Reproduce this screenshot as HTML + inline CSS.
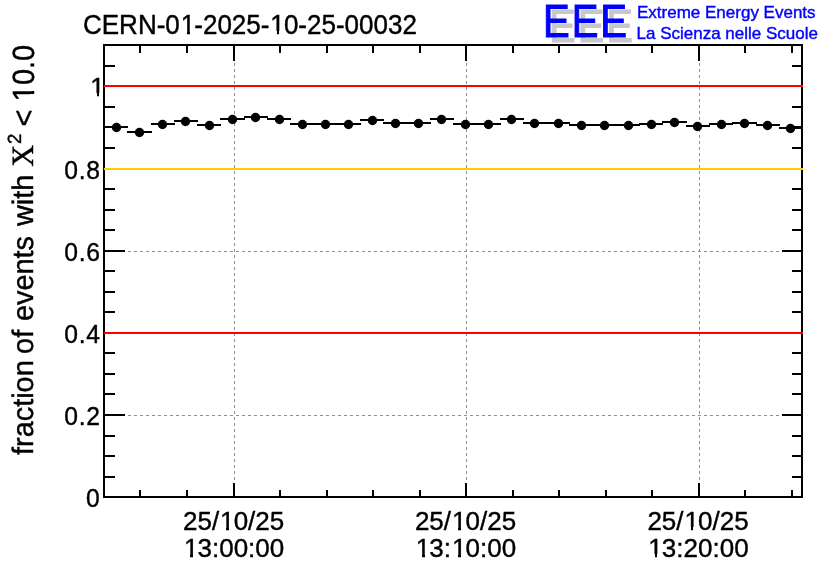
<!DOCTYPE html><html><head><meta charset="utf-8"><title>CERN-01-2025-10-25-00032</title>
<style>html,body{margin:0;padding:0;background:#fff}body{width:836px;height:572px;overflow:hidden;position:relative}svg{position:absolute;left:0;top:0;display:block;will-change:transform}text{font-family:"Liberation Sans",Arial,Helvetica,sans-serif;fill:#000}.s{font-family:"Liberation Serif","Times New Roman",serif}</style></head><body>
<svg width="836" height="572" viewBox="0 0 836 572">
<rect x="0" y="0" width="836" height="572" fill="#fff"/>
<g fill="#8f8f8f" shape-rendering="crispEdges">
<rect x="104" y="415" width="3" height="1"/>
<rect x="110" y="415" width="3" height="1"/>
<rect x="116" y="415" width="3" height="1"/>
<rect x="122" y="415" width="3" height="1"/>
<rect x="128" y="415" width="3" height="1"/>
<rect x="134" y="415" width="3" height="1"/>
<rect x="140" y="415" width="3" height="1"/>
<rect x="146" y="415" width="3" height="1"/>
<rect x="152" y="415" width="3" height="1"/>
<rect x="158" y="415" width="3" height="1"/>
<rect x="164" y="415" width="3" height="1"/>
<rect x="170" y="415" width="3" height="1"/>
<rect x="176" y="415" width="3" height="1"/>
<rect x="182" y="415" width="3" height="1"/>
<rect x="188" y="415" width="3" height="1"/>
<rect x="194" y="415" width="3" height="1"/>
<rect x="200" y="415" width="3" height="1"/>
<rect x="206" y="415" width="3" height="1"/>
<rect x="212" y="415" width="3" height="1"/>
<rect x="218" y="415" width="3" height="1"/>
<rect x="224" y="415" width="3" height="1"/>
<rect x="230" y="415" width="3" height="1"/>
<rect x="236" y="415" width="3" height="1"/>
<rect x="242" y="415" width="3" height="1"/>
<rect x="248" y="415" width="3" height="1"/>
<rect x="254" y="415" width="3" height="1"/>
<rect x="260" y="415" width="3" height="1"/>
<rect x="266" y="415" width="3" height="1"/>
<rect x="272" y="415" width="3" height="1"/>
<rect x="278" y="415" width="3" height="1"/>
<rect x="284" y="415" width="3" height="1"/>
<rect x="290" y="415" width="3" height="1"/>
<rect x="296" y="415" width="3" height="1"/>
<rect x="302" y="415" width="3" height="1"/>
<rect x="308" y="415" width="3" height="1"/>
<rect x="314" y="415" width="3" height="1"/>
<rect x="320" y="415" width="3" height="1"/>
<rect x="326" y="415" width="3" height="1"/>
<rect x="332" y="415" width="3" height="1"/>
<rect x="338" y="415" width="3" height="1"/>
<rect x="344" y="415" width="3" height="1"/>
<rect x="350" y="415" width="3" height="1"/>
<rect x="356" y="415" width="3" height="1"/>
<rect x="362" y="415" width="3" height="1"/>
<rect x="368" y="415" width="3" height="1"/>
<rect x="374" y="415" width="3" height="1"/>
<rect x="380" y="415" width="3" height="1"/>
<rect x="386" y="415" width="3" height="1"/>
<rect x="392" y="415" width="3" height="1"/>
<rect x="398" y="415" width="3" height="1"/>
<rect x="404" y="415" width="3" height="1"/>
<rect x="410" y="415" width="3" height="1"/>
<rect x="416" y="415" width="3" height="1"/>
<rect x="422" y="415" width="3" height="1"/>
<rect x="428" y="415" width="3" height="1"/>
<rect x="434" y="415" width="3" height="1"/>
<rect x="440" y="415" width="3" height="1"/>
<rect x="446" y="415" width="3" height="1"/>
<rect x="452" y="415" width="3" height="1"/>
<rect x="458" y="415" width="3" height="1"/>
<rect x="464" y="415" width="3" height="1"/>
<rect x="470" y="415" width="3" height="1"/>
<rect x="476" y="415" width="3" height="1"/>
<rect x="482" y="415" width="3" height="1"/>
<rect x="488" y="415" width="3" height="1"/>
<rect x="494" y="415" width="3" height="1"/>
<rect x="500" y="415" width="3" height="1"/>
<rect x="506" y="415" width="3" height="1"/>
<rect x="512" y="415" width="3" height="1"/>
<rect x="518" y="415" width="3" height="1"/>
<rect x="524" y="415" width="3" height="1"/>
<rect x="530" y="415" width="3" height="1"/>
<rect x="536" y="415" width="3" height="1"/>
<rect x="542" y="415" width="3" height="1"/>
<rect x="548" y="415" width="3" height="1"/>
<rect x="554" y="415" width="3" height="1"/>
<rect x="560" y="415" width="3" height="1"/>
<rect x="566" y="415" width="3" height="1"/>
<rect x="572" y="415" width="3" height="1"/>
<rect x="578" y="415" width="3" height="1"/>
<rect x="584" y="415" width="3" height="1"/>
<rect x="590" y="415" width="3" height="1"/>
<rect x="596" y="415" width="3" height="1"/>
<rect x="602" y="415" width="3" height="1"/>
<rect x="608" y="415" width="3" height="1"/>
<rect x="614" y="415" width="3" height="1"/>
<rect x="620" y="415" width="3" height="1"/>
<rect x="626" y="415" width="3" height="1"/>
<rect x="632" y="415" width="3" height="1"/>
<rect x="638" y="415" width="3" height="1"/>
<rect x="644" y="415" width="3" height="1"/>
<rect x="650" y="415" width="3" height="1"/>
<rect x="656" y="415" width="3" height="1"/>
<rect x="662" y="415" width="3" height="1"/>
<rect x="668" y="415" width="3" height="1"/>
<rect x="674" y="415" width="3" height="1"/>
<rect x="680" y="415" width="3" height="1"/>
<rect x="686" y="415" width="3" height="1"/>
<rect x="692" y="415" width="3" height="1"/>
<rect x="698" y="415" width="3" height="1"/>
<rect x="704" y="415" width="3" height="1"/>
<rect x="710" y="415" width="3" height="1"/>
<rect x="716" y="415" width="3" height="1"/>
<rect x="722" y="415" width="3" height="1"/>
<rect x="728" y="415" width="3" height="1"/>
<rect x="734" y="415" width="3" height="1"/>
<rect x="740" y="415" width="3" height="1"/>
<rect x="746" y="415" width="3" height="1"/>
<rect x="752" y="415" width="3" height="1"/>
<rect x="758" y="415" width="3" height="1"/>
<rect x="764" y="415" width="3" height="1"/>
<rect x="770" y="415" width="3" height="1"/>
<rect x="776" y="415" width="3" height="1"/>
<rect x="782" y="415" width="3" height="1"/>
<rect x="788" y="415" width="3" height="1"/>
<rect x="794" y="415" width="3" height="1"/>
<rect x="800" y="415" width="1" height="1"/>
<rect x="104" y="333" width="3" height="1"/>
<rect x="110" y="333" width="3" height="1"/>
<rect x="116" y="333" width="3" height="1"/>
<rect x="122" y="333" width="3" height="1"/>
<rect x="128" y="333" width="3" height="1"/>
<rect x="134" y="333" width="3" height="1"/>
<rect x="140" y="333" width="3" height="1"/>
<rect x="146" y="333" width="3" height="1"/>
<rect x="152" y="333" width="3" height="1"/>
<rect x="158" y="333" width="3" height="1"/>
<rect x="164" y="333" width="3" height="1"/>
<rect x="170" y="333" width="3" height="1"/>
<rect x="176" y="333" width="3" height="1"/>
<rect x="182" y="333" width="3" height="1"/>
<rect x="188" y="333" width="3" height="1"/>
<rect x="194" y="333" width="3" height="1"/>
<rect x="200" y="333" width="3" height="1"/>
<rect x="206" y="333" width="3" height="1"/>
<rect x="212" y="333" width="3" height="1"/>
<rect x="218" y="333" width="3" height="1"/>
<rect x="224" y="333" width="3" height="1"/>
<rect x="230" y="333" width="3" height="1"/>
<rect x="236" y="333" width="3" height="1"/>
<rect x="242" y="333" width="3" height="1"/>
<rect x="248" y="333" width="3" height="1"/>
<rect x="254" y="333" width="3" height="1"/>
<rect x="260" y="333" width="3" height="1"/>
<rect x="266" y="333" width="3" height="1"/>
<rect x="272" y="333" width="3" height="1"/>
<rect x="278" y="333" width="3" height="1"/>
<rect x="284" y="333" width="3" height="1"/>
<rect x="290" y="333" width="3" height="1"/>
<rect x="296" y="333" width="3" height="1"/>
<rect x="302" y="333" width="3" height="1"/>
<rect x="308" y="333" width="3" height="1"/>
<rect x="314" y="333" width="3" height="1"/>
<rect x="320" y="333" width="3" height="1"/>
<rect x="326" y="333" width="3" height="1"/>
<rect x="332" y="333" width="3" height="1"/>
<rect x="338" y="333" width="3" height="1"/>
<rect x="344" y="333" width="3" height="1"/>
<rect x="350" y="333" width="3" height="1"/>
<rect x="356" y="333" width="3" height="1"/>
<rect x="362" y="333" width="3" height="1"/>
<rect x="368" y="333" width="3" height="1"/>
<rect x="374" y="333" width="3" height="1"/>
<rect x="380" y="333" width="3" height="1"/>
<rect x="386" y="333" width="3" height="1"/>
<rect x="392" y="333" width="3" height="1"/>
<rect x="398" y="333" width="3" height="1"/>
<rect x="404" y="333" width="3" height="1"/>
<rect x="410" y="333" width="3" height="1"/>
<rect x="416" y="333" width="3" height="1"/>
<rect x="422" y="333" width="3" height="1"/>
<rect x="428" y="333" width="3" height="1"/>
<rect x="434" y="333" width="3" height="1"/>
<rect x="440" y="333" width="3" height="1"/>
<rect x="446" y="333" width="3" height="1"/>
<rect x="452" y="333" width="3" height="1"/>
<rect x="458" y="333" width="3" height="1"/>
<rect x="464" y="333" width="3" height="1"/>
<rect x="470" y="333" width="3" height="1"/>
<rect x="476" y="333" width="3" height="1"/>
<rect x="482" y="333" width="3" height="1"/>
<rect x="488" y="333" width="3" height="1"/>
<rect x="494" y="333" width="3" height="1"/>
<rect x="500" y="333" width="3" height="1"/>
<rect x="506" y="333" width="3" height="1"/>
<rect x="512" y="333" width="3" height="1"/>
<rect x="518" y="333" width="3" height="1"/>
<rect x="524" y="333" width="3" height="1"/>
<rect x="530" y="333" width="3" height="1"/>
<rect x="536" y="333" width="3" height="1"/>
<rect x="542" y="333" width="3" height="1"/>
<rect x="548" y="333" width="3" height="1"/>
<rect x="554" y="333" width="3" height="1"/>
<rect x="560" y="333" width="3" height="1"/>
<rect x="566" y="333" width="3" height="1"/>
<rect x="572" y="333" width="3" height="1"/>
<rect x="578" y="333" width="3" height="1"/>
<rect x="584" y="333" width="3" height="1"/>
<rect x="590" y="333" width="3" height="1"/>
<rect x="596" y="333" width="3" height="1"/>
<rect x="602" y="333" width="3" height="1"/>
<rect x="608" y="333" width="3" height="1"/>
<rect x="614" y="333" width="3" height="1"/>
<rect x="620" y="333" width="3" height="1"/>
<rect x="626" y="333" width="3" height="1"/>
<rect x="632" y="333" width="3" height="1"/>
<rect x="638" y="333" width="3" height="1"/>
<rect x="644" y="333" width="3" height="1"/>
<rect x="650" y="333" width="3" height="1"/>
<rect x="656" y="333" width="3" height="1"/>
<rect x="662" y="333" width="3" height="1"/>
<rect x="668" y="333" width="3" height="1"/>
<rect x="674" y="333" width="3" height="1"/>
<rect x="680" y="333" width="3" height="1"/>
<rect x="686" y="333" width="3" height="1"/>
<rect x="692" y="333" width="3" height="1"/>
<rect x="698" y="333" width="3" height="1"/>
<rect x="704" y="333" width="3" height="1"/>
<rect x="710" y="333" width="3" height="1"/>
<rect x="716" y="333" width="3" height="1"/>
<rect x="722" y="333" width="3" height="1"/>
<rect x="728" y="333" width="3" height="1"/>
<rect x="734" y="333" width="3" height="1"/>
<rect x="740" y="333" width="3" height="1"/>
<rect x="746" y="333" width="3" height="1"/>
<rect x="752" y="333" width="3" height="1"/>
<rect x="758" y="333" width="3" height="1"/>
<rect x="764" y="333" width="3" height="1"/>
<rect x="770" y="333" width="3" height="1"/>
<rect x="776" y="333" width="3" height="1"/>
<rect x="782" y="333" width="3" height="1"/>
<rect x="788" y="333" width="3" height="1"/>
<rect x="794" y="333" width="3" height="1"/>
<rect x="800" y="333" width="1" height="1"/>
<rect x="104" y="251" width="3" height="1"/>
<rect x="110" y="251" width="3" height="1"/>
<rect x="116" y="251" width="3" height="1"/>
<rect x="122" y="251" width="3" height="1"/>
<rect x="128" y="251" width="3" height="1"/>
<rect x="134" y="251" width="3" height="1"/>
<rect x="140" y="251" width="3" height="1"/>
<rect x="146" y="251" width="3" height="1"/>
<rect x="152" y="251" width="3" height="1"/>
<rect x="158" y="251" width="3" height="1"/>
<rect x="164" y="251" width="3" height="1"/>
<rect x="170" y="251" width="3" height="1"/>
<rect x="176" y="251" width="3" height="1"/>
<rect x="182" y="251" width="3" height="1"/>
<rect x="188" y="251" width="3" height="1"/>
<rect x="194" y="251" width="3" height="1"/>
<rect x="200" y="251" width="3" height="1"/>
<rect x="206" y="251" width="3" height="1"/>
<rect x="212" y="251" width="3" height="1"/>
<rect x="218" y="251" width="3" height="1"/>
<rect x="224" y="251" width="3" height="1"/>
<rect x="230" y="251" width="3" height="1"/>
<rect x="236" y="251" width="3" height="1"/>
<rect x="242" y="251" width="3" height="1"/>
<rect x="248" y="251" width="3" height="1"/>
<rect x="254" y="251" width="3" height="1"/>
<rect x="260" y="251" width="3" height="1"/>
<rect x="266" y="251" width="3" height="1"/>
<rect x="272" y="251" width="3" height="1"/>
<rect x="278" y="251" width="3" height="1"/>
<rect x="284" y="251" width="3" height="1"/>
<rect x="290" y="251" width="3" height="1"/>
<rect x="296" y="251" width="3" height="1"/>
<rect x="302" y="251" width="3" height="1"/>
<rect x="308" y="251" width="3" height="1"/>
<rect x="314" y="251" width="3" height="1"/>
<rect x="320" y="251" width="3" height="1"/>
<rect x="326" y="251" width="3" height="1"/>
<rect x="332" y="251" width="3" height="1"/>
<rect x="338" y="251" width="3" height="1"/>
<rect x="344" y="251" width="3" height="1"/>
<rect x="350" y="251" width="3" height="1"/>
<rect x="356" y="251" width="3" height="1"/>
<rect x="362" y="251" width="3" height="1"/>
<rect x="368" y="251" width="3" height="1"/>
<rect x="374" y="251" width="3" height="1"/>
<rect x="380" y="251" width="3" height="1"/>
<rect x="386" y="251" width="3" height="1"/>
<rect x="392" y="251" width="3" height="1"/>
<rect x="398" y="251" width="3" height="1"/>
<rect x="404" y="251" width="3" height="1"/>
<rect x="410" y="251" width="3" height="1"/>
<rect x="416" y="251" width="3" height="1"/>
<rect x="422" y="251" width="3" height="1"/>
<rect x="428" y="251" width="3" height="1"/>
<rect x="434" y="251" width="3" height="1"/>
<rect x="440" y="251" width="3" height="1"/>
<rect x="446" y="251" width="3" height="1"/>
<rect x="452" y="251" width="3" height="1"/>
<rect x="458" y="251" width="3" height="1"/>
<rect x="464" y="251" width="3" height="1"/>
<rect x="470" y="251" width="3" height="1"/>
<rect x="476" y="251" width="3" height="1"/>
<rect x="482" y="251" width="3" height="1"/>
<rect x="488" y="251" width="3" height="1"/>
<rect x="494" y="251" width="3" height="1"/>
<rect x="500" y="251" width="3" height="1"/>
<rect x="506" y="251" width="3" height="1"/>
<rect x="512" y="251" width="3" height="1"/>
<rect x="518" y="251" width="3" height="1"/>
<rect x="524" y="251" width="3" height="1"/>
<rect x="530" y="251" width="3" height="1"/>
<rect x="536" y="251" width="3" height="1"/>
<rect x="542" y="251" width="3" height="1"/>
<rect x="548" y="251" width="3" height="1"/>
<rect x="554" y="251" width="3" height="1"/>
<rect x="560" y="251" width="3" height="1"/>
<rect x="566" y="251" width="3" height="1"/>
<rect x="572" y="251" width="3" height="1"/>
<rect x="578" y="251" width="3" height="1"/>
<rect x="584" y="251" width="3" height="1"/>
<rect x="590" y="251" width="3" height="1"/>
<rect x="596" y="251" width="3" height="1"/>
<rect x="602" y="251" width="3" height="1"/>
<rect x="608" y="251" width="3" height="1"/>
<rect x="614" y="251" width="3" height="1"/>
<rect x="620" y="251" width="3" height="1"/>
<rect x="626" y="251" width="3" height="1"/>
<rect x="632" y="251" width="3" height="1"/>
<rect x="638" y="251" width="3" height="1"/>
<rect x="644" y="251" width="3" height="1"/>
<rect x="650" y="251" width="3" height="1"/>
<rect x="656" y="251" width="3" height="1"/>
<rect x="662" y="251" width="3" height="1"/>
<rect x="668" y="251" width="3" height="1"/>
<rect x="674" y="251" width="3" height="1"/>
<rect x="680" y="251" width="3" height="1"/>
<rect x="686" y="251" width="3" height="1"/>
<rect x="692" y="251" width="3" height="1"/>
<rect x="698" y="251" width="3" height="1"/>
<rect x="704" y="251" width="3" height="1"/>
<rect x="710" y="251" width="3" height="1"/>
<rect x="716" y="251" width="3" height="1"/>
<rect x="722" y="251" width="3" height="1"/>
<rect x="728" y="251" width="3" height="1"/>
<rect x="734" y="251" width="3" height="1"/>
<rect x="740" y="251" width="3" height="1"/>
<rect x="746" y="251" width="3" height="1"/>
<rect x="752" y="251" width="3" height="1"/>
<rect x="758" y="251" width="3" height="1"/>
<rect x="764" y="251" width="3" height="1"/>
<rect x="770" y="251" width="3" height="1"/>
<rect x="776" y="251" width="3" height="1"/>
<rect x="782" y="251" width="3" height="1"/>
<rect x="788" y="251" width="3" height="1"/>
<rect x="794" y="251" width="3" height="1"/>
<rect x="800" y="251" width="1" height="1"/>
<rect x="104" y="169" width="3" height="1"/>
<rect x="110" y="169" width="3" height="1"/>
<rect x="116" y="169" width="3" height="1"/>
<rect x="122" y="169" width="3" height="1"/>
<rect x="128" y="169" width="3" height="1"/>
<rect x="134" y="169" width="3" height="1"/>
<rect x="140" y="169" width="3" height="1"/>
<rect x="146" y="169" width="3" height="1"/>
<rect x="152" y="169" width="3" height="1"/>
<rect x="158" y="169" width="3" height="1"/>
<rect x="164" y="169" width="3" height="1"/>
<rect x="170" y="169" width="3" height="1"/>
<rect x="176" y="169" width="3" height="1"/>
<rect x="182" y="169" width="3" height="1"/>
<rect x="188" y="169" width="3" height="1"/>
<rect x="194" y="169" width="3" height="1"/>
<rect x="200" y="169" width="3" height="1"/>
<rect x="206" y="169" width="3" height="1"/>
<rect x="212" y="169" width="3" height="1"/>
<rect x="218" y="169" width="3" height="1"/>
<rect x="224" y="169" width="3" height="1"/>
<rect x="230" y="169" width="3" height="1"/>
<rect x="236" y="169" width="3" height="1"/>
<rect x="242" y="169" width="3" height="1"/>
<rect x="248" y="169" width="3" height="1"/>
<rect x="254" y="169" width="3" height="1"/>
<rect x="260" y="169" width="3" height="1"/>
<rect x="266" y="169" width="3" height="1"/>
<rect x="272" y="169" width="3" height="1"/>
<rect x="278" y="169" width="3" height="1"/>
<rect x="284" y="169" width="3" height="1"/>
<rect x="290" y="169" width="3" height="1"/>
<rect x="296" y="169" width="3" height="1"/>
<rect x="302" y="169" width="3" height="1"/>
<rect x="308" y="169" width="3" height="1"/>
<rect x="314" y="169" width="3" height="1"/>
<rect x="320" y="169" width="3" height="1"/>
<rect x="326" y="169" width="3" height="1"/>
<rect x="332" y="169" width="3" height="1"/>
<rect x="338" y="169" width="3" height="1"/>
<rect x="344" y="169" width="3" height="1"/>
<rect x="350" y="169" width="3" height="1"/>
<rect x="356" y="169" width="3" height="1"/>
<rect x="362" y="169" width="3" height="1"/>
<rect x="368" y="169" width="3" height="1"/>
<rect x="374" y="169" width="3" height="1"/>
<rect x="380" y="169" width="3" height="1"/>
<rect x="386" y="169" width="3" height="1"/>
<rect x="392" y="169" width="3" height="1"/>
<rect x="398" y="169" width="3" height="1"/>
<rect x="404" y="169" width="3" height="1"/>
<rect x="410" y="169" width="3" height="1"/>
<rect x="416" y="169" width="3" height="1"/>
<rect x="422" y="169" width="3" height="1"/>
<rect x="428" y="169" width="3" height="1"/>
<rect x="434" y="169" width="3" height="1"/>
<rect x="440" y="169" width="3" height="1"/>
<rect x="446" y="169" width="3" height="1"/>
<rect x="452" y="169" width="3" height="1"/>
<rect x="458" y="169" width="3" height="1"/>
<rect x="464" y="169" width="3" height="1"/>
<rect x="470" y="169" width="3" height="1"/>
<rect x="476" y="169" width="3" height="1"/>
<rect x="482" y="169" width="3" height="1"/>
<rect x="488" y="169" width="3" height="1"/>
<rect x="494" y="169" width="3" height="1"/>
<rect x="500" y="169" width="3" height="1"/>
<rect x="506" y="169" width="3" height="1"/>
<rect x="512" y="169" width="3" height="1"/>
<rect x="518" y="169" width="3" height="1"/>
<rect x="524" y="169" width="3" height="1"/>
<rect x="530" y="169" width="3" height="1"/>
<rect x="536" y="169" width="3" height="1"/>
<rect x="542" y="169" width="3" height="1"/>
<rect x="548" y="169" width="3" height="1"/>
<rect x="554" y="169" width="3" height="1"/>
<rect x="560" y="169" width="3" height="1"/>
<rect x="566" y="169" width="3" height="1"/>
<rect x="572" y="169" width="3" height="1"/>
<rect x="578" y="169" width="3" height="1"/>
<rect x="584" y="169" width="3" height="1"/>
<rect x="590" y="169" width="3" height="1"/>
<rect x="596" y="169" width="3" height="1"/>
<rect x="602" y="169" width="3" height="1"/>
<rect x="608" y="169" width="3" height="1"/>
<rect x="614" y="169" width="3" height="1"/>
<rect x="620" y="169" width="3" height="1"/>
<rect x="626" y="169" width="3" height="1"/>
<rect x="632" y="169" width="3" height="1"/>
<rect x="638" y="169" width="3" height="1"/>
<rect x="644" y="169" width="3" height="1"/>
<rect x="650" y="169" width="3" height="1"/>
<rect x="656" y="169" width="3" height="1"/>
<rect x="662" y="169" width="3" height="1"/>
<rect x="668" y="169" width="3" height="1"/>
<rect x="674" y="169" width="3" height="1"/>
<rect x="680" y="169" width="3" height="1"/>
<rect x="686" y="169" width="3" height="1"/>
<rect x="692" y="169" width="3" height="1"/>
<rect x="698" y="169" width="3" height="1"/>
<rect x="704" y="169" width="3" height="1"/>
<rect x="710" y="169" width="3" height="1"/>
<rect x="716" y="169" width="3" height="1"/>
<rect x="722" y="169" width="3" height="1"/>
<rect x="728" y="169" width="3" height="1"/>
<rect x="734" y="169" width="3" height="1"/>
<rect x="740" y="169" width="3" height="1"/>
<rect x="746" y="169" width="3" height="1"/>
<rect x="752" y="169" width="3" height="1"/>
<rect x="758" y="169" width="3" height="1"/>
<rect x="764" y="169" width="3" height="1"/>
<rect x="770" y="169" width="3" height="1"/>
<rect x="776" y="169" width="3" height="1"/>
<rect x="782" y="169" width="3" height="1"/>
<rect x="788" y="169" width="3" height="1"/>
<rect x="794" y="169" width="3" height="1"/>
<rect x="800" y="169" width="1" height="1"/>
<rect x="104" y="86" width="3" height="1"/>
<rect x="110" y="86" width="3" height="1"/>
<rect x="116" y="86" width="3" height="1"/>
<rect x="122" y="86" width="3" height="1"/>
<rect x="128" y="86" width="3" height="1"/>
<rect x="134" y="86" width="3" height="1"/>
<rect x="140" y="86" width="3" height="1"/>
<rect x="146" y="86" width="3" height="1"/>
<rect x="152" y="86" width="3" height="1"/>
<rect x="158" y="86" width="3" height="1"/>
<rect x="164" y="86" width="3" height="1"/>
<rect x="170" y="86" width="3" height="1"/>
<rect x="176" y="86" width="3" height="1"/>
<rect x="182" y="86" width="3" height="1"/>
<rect x="188" y="86" width="3" height="1"/>
<rect x="194" y="86" width="3" height="1"/>
<rect x="200" y="86" width="3" height="1"/>
<rect x="206" y="86" width="3" height="1"/>
<rect x="212" y="86" width="3" height="1"/>
<rect x="218" y="86" width="3" height="1"/>
<rect x="224" y="86" width="3" height="1"/>
<rect x="230" y="86" width="3" height="1"/>
<rect x="236" y="86" width="3" height="1"/>
<rect x="242" y="86" width="3" height="1"/>
<rect x="248" y="86" width="3" height="1"/>
<rect x="254" y="86" width="3" height="1"/>
<rect x="260" y="86" width="3" height="1"/>
<rect x="266" y="86" width="3" height="1"/>
<rect x="272" y="86" width="3" height="1"/>
<rect x="278" y="86" width="3" height="1"/>
<rect x="284" y="86" width="3" height="1"/>
<rect x="290" y="86" width="3" height="1"/>
<rect x="296" y="86" width="3" height="1"/>
<rect x="302" y="86" width="3" height="1"/>
<rect x="308" y="86" width="3" height="1"/>
<rect x="314" y="86" width="3" height="1"/>
<rect x="320" y="86" width="3" height="1"/>
<rect x="326" y="86" width="3" height="1"/>
<rect x="332" y="86" width="3" height="1"/>
<rect x="338" y="86" width="3" height="1"/>
<rect x="344" y="86" width="3" height="1"/>
<rect x="350" y="86" width="3" height="1"/>
<rect x="356" y="86" width="3" height="1"/>
<rect x="362" y="86" width="3" height="1"/>
<rect x="368" y="86" width="3" height="1"/>
<rect x="374" y="86" width="3" height="1"/>
<rect x="380" y="86" width="3" height="1"/>
<rect x="386" y="86" width="3" height="1"/>
<rect x="392" y="86" width="3" height="1"/>
<rect x="398" y="86" width="3" height="1"/>
<rect x="404" y="86" width="3" height="1"/>
<rect x="410" y="86" width="3" height="1"/>
<rect x="416" y="86" width="3" height="1"/>
<rect x="422" y="86" width="3" height="1"/>
<rect x="428" y="86" width="3" height="1"/>
<rect x="434" y="86" width="3" height="1"/>
<rect x="440" y="86" width="3" height="1"/>
<rect x="446" y="86" width="3" height="1"/>
<rect x="452" y="86" width="3" height="1"/>
<rect x="458" y="86" width="3" height="1"/>
<rect x="464" y="86" width="3" height="1"/>
<rect x="470" y="86" width="3" height="1"/>
<rect x="476" y="86" width="3" height="1"/>
<rect x="482" y="86" width="3" height="1"/>
<rect x="488" y="86" width="3" height="1"/>
<rect x="494" y="86" width="3" height="1"/>
<rect x="500" y="86" width="3" height="1"/>
<rect x="506" y="86" width="3" height="1"/>
<rect x="512" y="86" width="3" height="1"/>
<rect x="518" y="86" width="3" height="1"/>
<rect x="524" y="86" width="3" height="1"/>
<rect x="530" y="86" width="3" height="1"/>
<rect x="536" y="86" width="3" height="1"/>
<rect x="542" y="86" width="3" height="1"/>
<rect x="548" y="86" width="3" height="1"/>
<rect x="554" y="86" width="3" height="1"/>
<rect x="560" y="86" width="3" height="1"/>
<rect x="566" y="86" width="3" height="1"/>
<rect x="572" y="86" width="3" height="1"/>
<rect x="578" y="86" width="3" height="1"/>
<rect x="584" y="86" width="3" height="1"/>
<rect x="590" y="86" width="3" height="1"/>
<rect x="596" y="86" width="3" height="1"/>
<rect x="602" y="86" width="3" height="1"/>
<rect x="608" y="86" width="3" height="1"/>
<rect x="614" y="86" width="3" height="1"/>
<rect x="620" y="86" width="3" height="1"/>
<rect x="626" y="86" width="3" height="1"/>
<rect x="632" y="86" width="3" height="1"/>
<rect x="638" y="86" width="3" height="1"/>
<rect x="644" y="86" width="3" height="1"/>
<rect x="650" y="86" width="3" height="1"/>
<rect x="656" y="86" width="3" height="1"/>
<rect x="662" y="86" width="3" height="1"/>
<rect x="668" y="86" width="3" height="1"/>
<rect x="674" y="86" width="3" height="1"/>
<rect x="680" y="86" width="3" height="1"/>
<rect x="686" y="86" width="3" height="1"/>
<rect x="692" y="86" width="3" height="1"/>
<rect x="698" y="86" width="3" height="1"/>
<rect x="704" y="86" width="3" height="1"/>
<rect x="710" y="86" width="3" height="1"/>
<rect x="716" y="86" width="3" height="1"/>
<rect x="722" y="86" width="3" height="1"/>
<rect x="728" y="86" width="3" height="1"/>
<rect x="734" y="86" width="3" height="1"/>
<rect x="740" y="86" width="3" height="1"/>
<rect x="746" y="86" width="3" height="1"/>
<rect x="752" y="86" width="3" height="1"/>
<rect x="758" y="86" width="3" height="1"/>
<rect x="764" y="86" width="3" height="1"/>
<rect x="770" y="86" width="3" height="1"/>
<rect x="776" y="86" width="3" height="1"/>
<rect x="782" y="86" width="3" height="1"/>
<rect x="788" y="86" width="3" height="1"/>
<rect x="794" y="86" width="3" height="1"/>
<rect x="800" y="86" width="1" height="1"/>
<rect x="234" y="45" width="1" height="3"/>
<rect x="234" y="51" width="1" height="3"/>
<rect x="234" y="57" width="1" height="3"/>
<rect x="234" y="63" width="1" height="3"/>
<rect x="234" y="69" width="1" height="3"/>
<rect x="234" y="75" width="1" height="3"/>
<rect x="234" y="81" width="1" height="3"/>
<rect x="234" y="87" width="1" height="3"/>
<rect x="234" y="93" width="1" height="3"/>
<rect x="234" y="99" width="1" height="3"/>
<rect x="234" y="105" width="1" height="3"/>
<rect x="234" y="111" width="1" height="3"/>
<rect x="234" y="117" width="1" height="3"/>
<rect x="234" y="123" width="1" height="3"/>
<rect x="234" y="129" width="1" height="3"/>
<rect x="234" y="135" width="1" height="3"/>
<rect x="234" y="141" width="1" height="3"/>
<rect x="234" y="147" width="1" height="3"/>
<rect x="234" y="153" width="1" height="3"/>
<rect x="234" y="159" width="1" height="3"/>
<rect x="234" y="165" width="1" height="3"/>
<rect x="234" y="171" width="1" height="3"/>
<rect x="234" y="177" width="1" height="3"/>
<rect x="234" y="183" width="1" height="3"/>
<rect x="234" y="189" width="1" height="3"/>
<rect x="234" y="195" width="1" height="3"/>
<rect x="234" y="201" width="1" height="3"/>
<rect x="234" y="207" width="1" height="3"/>
<rect x="234" y="213" width="1" height="3"/>
<rect x="234" y="219" width="1" height="3"/>
<rect x="234" y="225" width="1" height="3"/>
<rect x="234" y="231" width="1" height="3"/>
<rect x="234" y="237" width="1" height="3"/>
<rect x="234" y="243" width="1" height="3"/>
<rect x="234" y="249" width="1" height="3"/>
<rect x="234" y="255" width="1" height="3"/>
<rect x="234" y="261" width="1" height="3"/>
<rect x="234" y="267" width="1" height="3"/>
<rect x="234" y="273" width="1" height="3"/>
<rect x="234" y="279" width="1" height="3"/>
<rect x="234" y="285" width="1" height="3"/>
<rect x="234" y="291" width="1" height="3"/>
<rect x="234" y="297" width="1" height="3"/>
<rect x="234" y="303" width="1" height="3"/>
<rect x="234" y="309" width="1" height="3"/>
<rect x="234" y="315" width="1" height="3"/>
<rect x="234" y="321" width="1" height="3"/>
<rect x="234" y="327" width="1" height="3"/>
<rect x="234" y="333" width="1" height="3"/>
<rect x="234" y="339" width="1" height="3"/>
<rect x="234" y="345" width="1" height="3"/>
<rect x="234" y="351" width="1" height="3"/>
<rect x="234" y="357" width="1" height="3"/>
<rect x="234" y="363" width="1" height="3"/>
<rect x="234" y="369" width="1" height="3"/>
<rect x="234" y="375" width="1" height="3"/>
<rect x="234" y="381" width="1" height="3"/>
<rect x="234" y="387" width="1" height="3"/>
<rect x="234" y="393" width="1" height="3"/>
<rect x="234" y="399" width="1" height="3"/>
<rect x="234" y="405" width="1" height="3"/>
<rect x="234" y="411" width="1" height="3"/>
<rect x="234" y="417" width="1" height="3"/>
<rect x="234" y="423" width="1" height="3"/>
<rect x="234" y="429" width="1" height="3"/>
<rect x="234" y="435" width="1" height="3"/>
<rect x="234" y="441" width="1" height="3"/>
<rect x="234" y="447" width="1" height="3"/>
<rect x="234" y="453" width="1" height="3"/>
<rect x="234" y="459" width="1" height="3"/>
<rect x="234" y="465" width="1" height="3"/>
<rect x="234" y="471" width="1" height="3"/>
<rect x="234" y="477" width="1" height="3"/>
<rect x="234" y="483" width="1" height="3"/>
<rect x="234" y="489" width="1" height="3"/>
<rect x="234" y="495" width="1" height="1"/>
<rect x="466" y="45" width="1" height="3"/>
<rect x="466" y="51" width="1" height="3"/>
<rect x="466" y="57" width="1" height="3"/>
<rect x="466" y="63" width="1" height="3"/>
<rect x="466" y="69" width="1" height="3"/>
<rect x="466" y="75" width="1" height="3"/>
<rect x="466" y="81" width="1" height="3"/>
<rect x="466" y="87" width="1" height="3"/>
<rect x="466" y="93" width="1" height="3"/>
<rect x="466" y="99" width="1" height="3"/>
<rect x="466" y="105" width="1" height="3"/>
<rect x="466" y="111" width="1" height="3"/>
<rect x="466" y="117" width="1" height="3"/>
<rect x="466" y="123" width="1" height="3"/>
<rect x="466" y="129" width="1" height="3"/>
<rect x="466" y="135" width="1" height="3"/>
<rect x="466" y="141" width="1" height="3"/>
<rect x="466" y="147" width="1" height="3"/>
<rect x="466" y="153" width="1" height="3"/>
<rect x="466" y="159" width="1" height="3"/>
<rect x="466" y="165" width="1" height="3"/>
<rect x="466" y="171" width="1" height="3"/>
<rect x="466" y="177" width="1" height="3"/>
<rect x="466" y="183" width="1" height="3"/>
<rect x="466" y="189" width="1" height="3"/>
<rect x="466" y="195" width="1" height="3"/>
<rect x="466" y="201" width="1" height="3"/>
<rect x="466" y="207" width="1" height="3"/>
<rect x="466" y="213" width="1" height="3"/>
<rect x="466" y="219" width="1" height="3"/>
<rect x="466" y="225" width="1" height="3"/>
<rect x="466" y="231" width="1" height="3"/>
<rect x="466" y="237" width="1" height="3"/>
<rect x="466" y="243" width="1" height="3"/>
<rect x="466" y="249" width="1" height="3"/>
<rect x="466" y="255" width="1" height="3"/>
<rect x="466" y="261" width="1" height="3"/>
<rect x="466" y="267" width="1" height="3"/>
<rect x="466" y="273" width="1" height="3"/>
<rect x="466" y="279" width="1" height="3"/>
<rect x="466" y="285" width="1" height="3"/>
<rect x="466" y="291" width="1" height="3"/>
<rect x="466" y="297" width="1" height="3"/>
<rect x="466" y="303" width="1" height="3"/>
<rect x="466" y="309" width="1" height="3"/>
<rect x="466" y="315" width="1" height="3"/>
<rect x="466" y="321" width="1" height="3"/>
<rect x="466" y="327" width="1" height="3"/>
<rect x="466" y="333" width="1" height="3"/>
<rect x="466" y="339" width="1" height="3"/>
<rect x="466" y="345" width="1" height="3"/>
<rect x="466" y="351" width="1" height="3"/>
<rect x="466" y="357" width="1" height="3"/>
<rect x="466" y="363" width="1" height="3"/>
<rect x="466" y="369" width="1" height="3"/>
<rect x="466" y="375" width="1" height="3"/>
<rect x="466" y="381" width="1" height="3"/>
<rect x="466" y="387" width="1" height="3"/>
<rect x="466" y="393" width="1" height="3"/>
<rect x="466" y="399" width="1" height="3"/>
<rect x="466" y="405" width="1" height="3"/>
<rect x="466" y="411" width="1" height="3"/>
<rect x="466" y="417" width="1" height="3"/>
<rect x="466" y="423" width="1" height="3"/>
<rect x="466" y="429" width="1" height="3"/>
<rect x="466" y="435" width="1" height="3"/>
<rect x="466" y="441" width="1" height="3"/>
<rect x="466" y="447" width="1" height="3"/>
<rect x="466" y="453" width="1" height="3"/>
<rect x="466" y="459" width="1" height="3"/>
<rect x="466" y="465" width="1" height="3"/>
<rect x="466" y="471" width="1" height="3"/>
<rect x="466" y="477" width="1" height="3"/>
<rect x="466" y="483" width="1" height="3"/>
<rect x="466" y="489" width="1" height="3"/>
<rect x="466" y="495" width="1" height="1"/>
<rect x="699" y="45" width="1" height="3"/>
<rect x="699" y="51" width="1" height="3"/>
<rect x="699" y="57" width="1" height="3"/>
<rect x="699" y="63" width="1" height="3"/>
<rect x="699" y="69" width="1" height="3"/>
<rect x="699" y="75" width="1" height="3"/>
<rect x="699" y="81" width="1" height="3"/>
<rect x="699" y="87" width="1" height="3"/>
<rect x="699" y="93" width="1" height="3"/>
<rect x="699" y="99" width="1" height="3"/>
<rect x="699" y="105" width="1" height="3"/>
<rect x="699" y="111" width="1" height="3"/>
<rect x="699" y="117" width="1" height="3"/>
<rect x="699" y="123" width="1" height="3"/>
<rect x="699" y="129" width="1" height="3"/>
<rect x="699" y="135" width="1" height="3"/>
<rect x="699" y="141" width="1" height="3"/>
<rect x="699" y="147" width="1" height="3"/>
<rect x="699" y="153" width="1" height="3"/>
<rect x="699" y="159" width="1" height="3"/>
<rect x="699" y="165" width="1" height="3"/>
<rect x="699" y="171" width="1" height="3"/>
<rect x="699" y="177" width="1" height="3"/>
<rect x="699" y="183" width="1" height="3"/>
<rect x="699" y="189" width="1" height="3"/>
<rect x="699" y="195" width="1" height="3"/>
<rect x="699" y="201" width="1" height="3"/>
<rect x="699" y="207" width="1" height="3"/>
<rect x="699" y="213" width="1" height="3"/>
<rect x="699" y="219" width="1" height="3"/>
<rect x="699" y="225" width="1" height="3"/>
<rect x="699" y="231" width="1" height="3"/>
<rect x="699" y="237" width="1" height="3"/>
<rect x="699" y="243" width="1" height="3"/>
<rect x="699" y="249" width="1" height="3"/>
<rect x="699" y="255" width="1" height="3"/>
<rect x="699" y="261" width="1" height="3"/>
<rect x="699" y="267" width="1" height="3"/>
<rect x="699" y="273" width="1" height="3"/>
<rect x="699" y="279" width="1" height="3"/>
<rect x="699" y="285" width="1" height="3"/>
<rect x="699" y="291" width="1" height="3"/>
<rect x="699" y="297" width="1" height="3"/>
<rect x="699" y="303" width="1" height="3"/>
<rect x="699" y="309" width="1" height="3"/>
<rect x="699" y="315" width="1" height="3"/>
<rect x="699" y="321" width="1" height="3"/>
<rect x="699" y="327" width="1" height="3"/>
<rect x="699" y="333" width="1" height="3"/>
<rect x="699" y="339" width="1" height="3"/>
<rect x="699" y="345" width="1" height="3"/>
<rect x="699" y="351" width="1" height="3"/>
<rect x="699" y="357" width="1" height="3"/>
<rect x="699" y="363" width="1" height="3"/>
<rect x="699" y="369" width="1" height="3"/>
<rect x="699" y="375" width="1" height="3"/>
<rect x="699" y="381" width="1" height="3"/>
<rect x="699" y="387" width="1" height="3"/>
<rect x="699" y="393" width="1" height="3"/>
<rect x="699" y="399" width="1" height="3"/>
<rect x="699" y="405" width="1" height="3"/>
<rect x="699" y="411" width="1" height="3"/>
<rect x="699" y="417" width="1" height="3"/>
<rect x="699" y="423" width="1" height="3"/>
<rect x="699" y="429" width="1" height="3"/>
<rect x="699" y="435" width="1" height="3"/>
<rect x="699" y="441" width="1" height="3"/>
<rect x="699" y="447" width="1" height="3"/>
<rect x="699" y="453" width="1" height="3"/>
<rect x="699" y="459" width="1" height="3"/>
<rect x="699" y="465" width="1" height="3"/>
<rect x="699" y="471" width="1" height="3"/>
<rect x="699" y="477" width="1" height="3"/>
<rect x="699" y="483" width="1" height="3"/>
<rect x="699" y="489" width="1" height="3"/>
<rect x="699" y="495" width="1" height="1"/>
</g>
<g stroke="#000" stroke-width="0.4" style="font-kerning:none">
<text transform="translate(83.00 34) scale(1 1.04)" font-size="26px" dx="0 0 0 0 0 0 0.9 -0.9 0 0 0 0 0 0.9 -0.9 0 0 0 0 0 0 0 0 0">CERN-01-2025-10-25-00032</text>
<text transform="translate(85.94 507) scale(0.95 1.015)" letter-spacing="0.7" font-size="26px">0</text>
<text transform="translate(64.26 425) scale(0.95 1.015)" letter-spacing="0.7" font-size="26px">0.2</text>
<text transform="translate(64.26 343) scale(0.95 1.015)" letter-spacing="0.7" font-size="26px">0.4</text>
<text transform="translate(64.26 261) scale(0.95 1.015)" letter-spacing="0.7" font-size="26px">0.6</text>
<text transform="translate(64.26 179) scale(0.95 1.015)" letter-spacing="0.7" font-size="26px">0.8</text>
<text transform="translate(90.26 96) scale(1 1.015)" font-size="26px">1</text>
<text transform="translate(183.00 530) scale(1 1.015)" font-size="26px" dx="0 0 0 0.9 -0.9 0 0 0">25/10/25</text>
<text transform="translate(183.00 557) scale(1 1.0)" font-size="26px" dx="0.9 -0.9 0 0 0 0 0 0">13:00:00</text>
<text transform="translate(414.90 530) scale(1 1.015)" font-size="26px" dx="0 0 0 0.9 -0.9 0 0 0">25/10/25</text>
<text transform="translate(414.90 557) scale(1 1.0)" font-size="26px" dx="0.9 -0.9 0 0.9 -0.9 0 0 0">13:10:00</text>
<text transform="translate(647.40 530) scale(1 1.015)" font-size="26px" dx="0 0 0 0.9 -0.9 0 0 0">25/10/25</text>
<text transform="translate(647.40 557) scale(1 1.0)" font-size="26px" dx="0.9 -0.9 0 0 0 0 0 0">13:20:00</text>
</g>
<text transform="translate(33 454.5) rotate(-90) scale(1 1.024)" font-size="28.9px" stroke="#000" stroke-width="0.4" style="text-rendering:geometricPrecision;font-kerning:none"><tspan x="-0.5">fraction </tspan><tspan x="100.6">of </tspan><tspan x="133.4">events </tspan><tspan x="228.5">with </tspan><tspan x="287.8" class="s" font-size="30.2px">Χ</tspan><tspan x="310.4" dy="-11.3" font-size="18.6px">2</tspan></text>
<text transform="translate(33.5 454.5) rotate(-90) scale(1 1.06)" font-size="28.9px" stroke="#000" stroke-width="0.4" style="text-rendering:geometricPrecision;font-kerning:none"><tspan x="328.0">&lt; </tspan><tspan x="353.20" dx="0 0.2">10.0</tspan></text>
<g fill="#fff" shape-rendering="crispEdges">
<rect x="181" y="31" width="6" height="5"/>
<rect x="190" y="31" width="5" height="5"/>
<rect x="271" y="31" width="6" height="5"/>
<rect x="279" y="31" width="6" height="5"/>
<rect x="91" y="93" width="6" height="5"/>
<rect x="99" y="93" width="6" height="5"/>
<rect x="221" y="527" width="5" height="5"/>
<rect x="229" y="527" width="6" height="5"/>
<rect x="185" y="554" width="5" height="5"/>
<rect x="193" y="554" width="5" height="5"/>
<rect x="453" y="527" width="5" height="5"/>
<rect x="461" y="527" width="5" height="5"/>
<rect x="416" y="554" width="6" height="5"/>
<rect x="425" y="554" width="5" height="5"/>
<rect x="453" y="554" width="5" height="5"/>
<rect x="461" y="554" width="5" height="5"/>
<rect x="685" y="527" width="6" height="5"/>
<rect x="693" y="527" width="6" height="5"/>
<rect x="649" y="554" width="6" height="5"/>
<rect x="657" y="554" width="6" height="5"/>
<rect x="30" y="85" width="5" height="6"/>
<rect x="30" y="94" width="5" height="6"/>
</g>
<g fill="#000" shape-rendering="crispEdges">
<rect x="103" y="44" width="700" height="2"/>
<rect x="103" y="496" width="700" height="2"/>
<rect x="103" y="44" width="2" height="454"/>
<rect x="801" y="44" width="2" height="454"/>
<rect x="139" y="490" width="2" height="7"/>
<rect x="139" y="44" width="2" height="9"/>
<rect x="186" y="490" width="2" height="7"/>
<rect x="186" y="44" width="2" height="9"/>
<rect x="233" y="483" width="2" height="14"/>
<rect x="233" y="44" width="2" height="17"/>
<rect x="279" y="490" width="2" height="7"/>
<rect x="279" y="44" width="2" height="9"/>
<rect x="326" y="490" width="2" height="7"/>
<rect x="326" y="44" width="2" height="9"/>
<rect x="372" y="490" width="2" height="7"/>
<rect x="372" y="44" width="2" height="9"/>
<rect x="419" y="490" width="2" height="7"/>
<rect x="419" y="44" width="2" height="9"/>
<rect x="465" y="483" width="2" height="14"/>
<rect x="465" y="44" width="2" height="17"/>
<rect x="512" y="490" width="2" height="7"/>
<rect x="512" y="44" width="2" height="9"/>
<rect x="558" y="490" width="2" height="7"/>
<rect x="558" y="44" width="2" height="9"/>
<rect x="605" y="490" width="2" height="7"/>
<rect x="605" y="44" width="2" height="9"/>
<rect x="651" y="490" width="2" height="7"/>
<rect x="651" y="44" width="2" height="9"/>
<rect x="698" y="483" width="2" height="14"/>
<rect x="698" y="44" width="2" height="17"/>
<rect x="744" y="490" width="2" height="7"/>
<rect x="744" y="44" width="2" height="9"/>
<rect x="791" y="490" width="2" height="7"/>
<rect x="791" y="44" width="2" height="9"/>
<rect x="103" y="476" width="12" height="2"/>
<rect x="792" y="476" width="11" height="2"/>
<rect x="103" y="455" width="12" height="2"/>
<rect x="792" y="455" width="11" height="2"/>
<rect x="103" y="435" width="12" height="2"/>
<rect x="792" y="435" width="11" height="2"/>
<rect x="103" y="414" width="22" height="2"/>
<rect x="782" y="414" width="21" height="2"/>
<rect x="103" y="393" width="12" height="2"/>
<rect x="792" y="393" width="11" height="2"/>
<rect x="103" y="373" width="12" height="2"/>
<rect x="792" y="373" width="11" height="2"/>
<rect x="103" y="352" width="12" height="2"/>
<rect x="792" y="352" width="11" height="2"/>
<rect x="103" y="332" width="22" height="2"/>
<rect x="782" y="332" width="21" height="2"/>
<rect x="103" y="311" width="12" height="2"/>
<rect x="792" y="311" width="11" height="2"/>
<rect x="103" y="291" width="12" height="2"/>
<rect x="792" y="291" width="11" height="2"/>
<rect x="103" y="270" width="12" height="2"/>
<rect x="792" y="270" width="11" height="2"/>
<rect x="103" y="250" width="22" height="2"/>
<rect x="782" y="250" width="21" height="2"/>
<rect x="103" y="229" width="12" height="2"/>
<rect x="792" y="229" width="11" height="2"/>
<rect x="103" y="209" width="12" height="2"/>
<rect x="792" y="209" width="11" height="2"/>
<rect x="103" y="188" width="12" height="2"/>
<rect x="792" y="188" width="11" height="2"/>
<rect x="103" y="168" width="22" height="2"/>
<rect x="782" y="168" width="21" height="2"/>
<rect x="103" y="147" width="12" height="2"/>
<rect x="792" y="147" width="11" height="2"/>
<rect x="103" y="126" width="12" height="2"/>
<rect x="792" y="126" width="11" height="2"/>
<rect x="103" y="106" width="12" height="2"/>
<rect x="792" y="106" width="11" height="2"/>
<rect x="103" y="85" width="22" height="2"/>
<rect x="782" y="85" width="21" height="2"/>
<rect x="103" y="65" width="12" height="2"/>
<rect x="792" y="65" width="11" height="2"/>
</g>
<g shape-rendering="crispEdges">
<rect x="104" y="85" width="699" height="2" fill="#ff0000"/>
<rect x="104" y="168" width="699" height="2" fill="#ffcc00"/>
<rect x="104" y="332" width="699" height="2" fill="#ff0000"/>
</g>
<g fill="#000">
<g shape-rendering="crispEdges">
<rect x="104" y="126" width="24" height="2"/>
<rect x="127" y="131" width="25" height="2"/>
<rect x="151" y="123" width="24" height="2"/>
<rect x="174" y="120" width="24" height="2"/>
<rect x="197" y="124" width="24" height="2"/>
<rect x="220" y="118" width="25" height="2"/>
<rect x="244" y="116" width="24" height="2"/>
<rect x="267" y="118" width="24" height="2"/>
<rect x="290" y="123" width="24" height="2"/>
<rect x="313" y="123" width="25" height="2"/>
<rect x="337" y="123" width="24" height="2"/>
<rect x="360" y="119" width="24" height="2"/>
<rect x="383" y="122" width="24" height="2"/>
<rect x="406" y="122" width="25" height="2"/>
<rect x="430" y="118" width="24" height="2"/>
<rect x="453" y="123" width="24" height="2"/>
<rect x="476" y="123" width="25" height="2"/>
<rect x="500" y="118" width="24" height="2"/>
<rect x="523" y="122" width="24" height="2"/>
<rect x="546" y="122" width="24" height="2"/>
<rect x="569" y="124" width="25" height="2"/>
<rect x="593" y="124" width="24" height="2"/>
<rect x="616" y="124" width="24" height="2"/>
<rect x="639" y="123" width="24" height="2"/>
<rect x="662" y="121" width="25" height="2"/>
<rect x="686" y="125" width="24" height="2"/>
<rect x="709" y="123" width="24" height="2"/>
<rect x="732" y="122" width="25" height="2"/>
<rect x="756" y="124" width="24" height="2"/>
<rect x="779" y="127" width="23" height="2"/>
</g>
<circle cx="116.5" cy="127.5" r="4.7"/>
<circle cx="139.5" cy="132.5" r="4.7"/>
<circle cx="162.5" cy="124.5" r="4.7"/>
<circle cx="185.5" cy="121.5" r="4.7"/>
<circle cx="209.5" cy="125.5" r="4.7"/>
<circle cx="232.5" cy="119.5" r="4.7"/>
<circle cx="255.5" cy="117.5" r="4.7"/>
<circle cx="279.5" cy="119.5" r="4.7"/>
<circle cx="302.5" cy="124.5" r="4.7"/>
<circle cx="325.5" cy="124.5" r="4.7"/>
<circle cx="348.5" cy="124.5" r="4.7"/>
<circle cx="372.5" cy="120.5" r="4.7"/>
<circle cx="395.5" cy="123.5" r="4.7"/>
<circle cx="418.5" cy="123.5" r="4.7"/>
<circle cx="441.5" cy="119.5" r="4.7"/>
<circle cx="465.5" cy="124.5" r="4.7"/>
<circle cx="488.5" cy="124.5" r="4.7"/>
<circle cx="511.5" cy="119.5" r="4.7"/>
<circle cx="534.5" cy="123.5" r="4.7"/>
<circle cx="558.5" cy="123.5" r="4.7"/>
<circle cx="581.5" cy="125.5" r="4.7"/>
<circle cx="604.5" cy="125.5" r="4.7"/>
<circle cx="628.5" cy="125.5" r="4.7"/>
<circle cx="651.5" cy="124.5" r="4.7"/>
<circle cx="674.5" cy="122.5" r="4.7"/>
<circle cx="697.5" cy="126.5" r="4.7"/>
<circle cx="721.5" cy="124.5" r="4.7"/>
<circle cx="744.5" cy="123.5" r="4.7"/>
<circle cx="767.5" cy="125.5" r="4.7"/>
<circle cx="790.5" cy="128.5" r="4.7"/>
</g>
<g font-size="43px" stroke-width="1" stroke-linejoin="miter">
<text transform="translate(549.0 41.9) scale(0.932 1.065)" letter-spacing="2.1" vector-effect="non-scaling-stroke" style="fill:#c8c8c8;stroke:#c8c8c8">EEE</text>
<text transform="translate(543.0 36.9) scale(0.932 1.065)" letter-spacing="2.1" vector-effect="non-scaling-stroke" style="fill:#0000ff;stroke:#0000ff">EEE</text>
</g>
<g font-size="17px" stroke-width="0.4"><text transform="translate(637 18)" style="fill:#0000ff;stroke:#0000ff">Extreme Energy Events</text><text transform="translate(636.5 39)" style="fill:#0000ff;stroke:#0000ff">La Scienza nelle Scuole</text></g>
</svg></body></html>
